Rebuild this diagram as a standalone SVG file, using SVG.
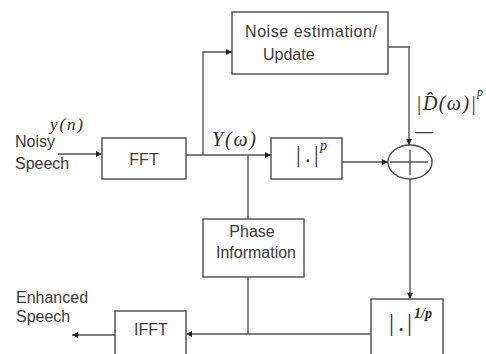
<svg xmlns="http://www.w3.org/2000/svg" width="486" height="354" viewBox="0 0 486 354">
<defs>
<style>
.box{fill:#fff;stroke:#4a4a4a;stroke-width:1.4}
.ln{fill:none;stroke:#555;stroke-width:1.4}
.arr{marker-end:url(#ah)}
.t{font-family:"Liberation Sans",Arial,sans-serif;font-size:16px;fill:#3a3a3a}
.m{font-family:"Liberation Serif","Times New Roman",serif;font-style:italic;fill:#2a2a2a}
.bar{font-family:"Liberation Serif","Times New Roman",serif;fill:#2a2a2a}
</style>
<marker id="ah" markerWidth="6" markerHeight="6" refX="6" refY="3" orient="auto" markerUnits="userSpaceOnUse">
<path d="M0,0 L6,3 L0,6 z" fill="#222"/>
</marker>
</defs>
<rect width="486" height="354" fill="#fff"/>

<g id="connectors">
<path class="ln arr" d="M58,154 H102"/>
<path class="ln arr" d="M186,155 H271"/>
<path class="ln arr" d="M203,155 V52 H232"/>
<path class="ln" d="M248,155 V219"/>
<path class="ln" d="M248,277 V334"/>
<path class="ln arr" d="M342,162 H388"/>
<path class="ln arr" d="M388,47 H409 V145"/>
<path class="ln arr" d="M410,179 V299"/>
<path class="ln arr" d="M371,334 H186"/>
<path class="ln arr" d="M115,335 H72"/>
</g>

<g id="labels">
<text class="m" x="50" y="130" font-size="17" textLength="33">y(n)</text>
<text class="t" x="15" y="147">Noisy</text>
<text class="t" x="15" y="169">Speech</text>
<text class="m" x="212" y="146" font-size="20" textLength="44">Y(ω)</text>
<text class="m" x="416" y="110" font-size="20" textLength="60">|D̂(ω)|</text>
<text class="m" x="477" y="96" font-size="12">p</text>
<text class="t" x="415" y="137" style="font-size:18px">—</text>
<text class="t" x="16" y="303">Enhanced</text>
<text class="t" x="16" y="322">Speech</text>
</g>

<g id="fft">
<rect class="box" x="102" y="138" width="84" height="41"/>
<text class="t" x="144" y="165" text-anchor="middle">FFT</text>
</g>

<g id="noise">
<rect class="box" x="232" y="12" width="156" height="62"/>
<text class="t" x="245" y="37" textLength="132">Noise estimation/</text>
<text class="t" x="263" y="60">Update</text>
</g>

<g id="power">
<rect class="box" x="271" y="138" width="71" height="41"/>
<text class="bar" font-size="23" y="162"><tspan x="296">|</tspan><tspan x="305">.</tspan><tspan x="314">|</tspan></text>
<text class="m" x="320" y="150" font-size="14">p</text>
</g>

<g id="sum">
<ellipse class="box" cx="410" cy="162" rx="22" ry="17"/>
<path class="ln" d="M390,162 H428 M410,150 V175"/>
</g>

<g id="phase">
<rect class="box" x="203" y="219" width="101" height="58"/>
<text class="t" x="252" y="237" text-anchor="middle">Phase</text>
<text class="t" x="256" y="258" text-anchor="middle">Information</text>
</g>

<g id="root">
<rect class="box" x="371" y="299" width="72" height="60"/>
<text class="bar" font-size="25" y="331"><tspan x="389">|</tspan><tspan x="398">.</tspan><tspan x="407">|</tspan></text>
<text class="m" x="414" y="318" font-size="14" font-weight="bold">1/p</text>
</g>

<g id="ifft">
<rect class="box" x="115" y="311" width="71" height="50"/>
<text class="t" x="151" y="335" text-anchor="middle">IFFT</text>
</g>
</svg>
